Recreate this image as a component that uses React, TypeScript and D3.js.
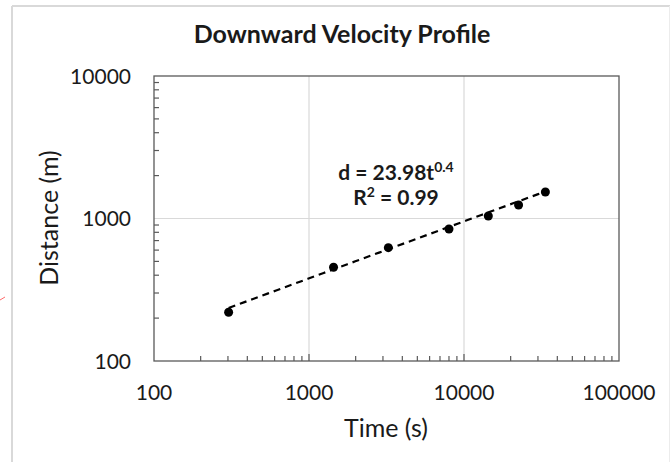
import React from "react";
import * as d3 from "d3";

const timeValues = [303, 1440, 3250, 8000, 14350, 22500, 33500];
const distanceValues = [220, 455, 624, 844, 1042, 1244, 1535];
const xTickValues = [100, 1000, 10000, 100000];
const yTickValues = [100, 1000, 10000];
const fitCoef = 23.98;
const fitExp = 0.4;
const titleText = "Downward Velocity Profile";
const xTitle = "Time (s)";
const yTitle = "Distance (m)";

const W = 671;
const H = 462;
const FONT = "Lato, 'Open Sans', sans-serif";

export default function App() {
  const left = 154, right = 619, top = 76, bottom = 361;
  const x = d3.scaleLog().domain([100, 100000]).range([left, right]);
  const y = d3.scaleLog().domain([100, 10000]).range([bottom, top]);

  const minorX: number[] = [];
  for (const dec of [100, 1000, 10000]) for (let k = 2; k <= 9; k++) minorX.push(dec * k);
  const minorY: number[] = [];
  for (const dec of [100, 1000]) for (let k = 2; k <= 9; k++) minorY.push(dec * k);

  const tMin = d3.min(timeValues)!;
  const tMax = d3.max(timeValues)!;
  const fitPts: [number, number][] = d3.range(0, 41).map((i) => {
    const t = tMin * Math.pow(tMax / tMin, i / 40);
    return [t, fitCoef * Math.pow(t, fitExp)];
  });
  const line = d3.line<[number, number]>().x((d) => x(d[0])).y((d) => y(d[1]));

  const axisColor = "#595959";
  const gridColor = "#d9d9d9";
  const textColor = "#1a1a1a";

  return (
    <svg width={W} height={H} style={{ position: "absolute", left: 0, top: 0, background: "#fff" }}>
      {/* outer chart frame */}
      <line x1={12} y1={6} x2={670} y2={6} stroke="#d9d9d9" strokeWidth={2} />
      <line x1={12} y1={6} x2={12} y2={H} stroke="#d9d9d9" strokeWidth={2} />
      <line x1={669.5} y1={6} x2={669.5} y2={H} stroke="#ececec" strokeWidth={1} />
      <line x1={0} y1={300} x2={5} y2={297} stroke="#ff6b6b" strokeWidth={1} />

      {/* gridlines */}
      {xTickValues.slice(1, -1).map((v) => (
        <line key={"gx" + v} x1={x(v)} x2={x(v)} y1={top} y2={bottom} stroke={gridColor} strokeWidth={1.2} />
      ))}
      {yTickValues.slice(1, -1).map((v) => (
        <line key={"gy" + v} x1={left} x2={right} y1={y(v)} y2={y(v)} stroke={gridColor} strokeWidth={1.2} />
      ))}

      {/* plot frame */}
      <rect x={left} y={top} width={right - left} height={bottom - top} fill="none" stroke={axisColor} strokeWidth={1.3} />

      {/* minor ticks */}
      {minorX.map((v) => (
        <line key={"mx" + v} x1={x(v)} x2={x(v)} y1={bottom} y2={bottom - 5} stroke={axisColor} strokeWidth={1.2} />
      ))}
      {xTickValues.slice(1, -1).map((v) => (
        <line key={"Mx" + v} x1={x(v)} x2={x(v)} y1={bottom} y2={bottom - 7} stroke={axisColor} strokeWidth={1.2} />
      ))}
      {minorY.map((v) => (
        <line key={"my" + v} x1={left} x2={left + 5} y1={y(v)} y2={y(v)} stroke={axisColor} strokeWidth={1.2} />
      ))}

      {/* tick labels */}
      {xTickValues.map((v) => (
        <text key={"tx" + v} x={x(v)} y={400} textAnchor="middle" fontFamily={FONT} fontSize={21} fill={textColor}>
          {v}
        </text>
      ))}
      {yTickValues.map((v) => (
        <text key={"ty" + v} x={131} y={y(v) + 7.5} textAnchor="end" fontFamily={FONT} fontSize={21} fill={textColor}>
          {v}
        </text>
      ))}

      {/* fit line */}
      <path d={line(fitPts) || ""} fill="none" stroke="#000" strokeWidth={2.2} strokeDasharray="7,5" />

      {/* points */}
      {timeValues.map((t, i) => (
        <circle key={"p" + i} cx={x(t)} cy={y(distanceValues[i])} r={4.5} fill="#000" />
      ))}

      {/* annotation */}
      <text x={396} y={180} textAnchor="middle" fontFamily={FONT} fontSize={21} fontWeight="bold" fill={textColor}>
        d = 23.98t<tspan dy={-8} fontSize={14}>0.4</tspan>
      </text>
      <text x={396} y={205} textAnchor="middle" fontFamily={FONT} fontSize={21} fontWeight="bold" fill={textColor}>
        R<tspan dy={-8} fontSize={14}>2</tspan><tspan dy={8}> = 0.99</tspan>
      </text>

      {/* titles */}
      <text x={342} y={43} textAnchor="middle" fontFamily={FONT} fontSize={25} fontWeight="bold" fill={textColor}>
        {titleText}
      </text>
      <text x={386} y={437} textAnchor="middle" fontFamily={FONT} fontSize={25} fill={textColor}>
        {xTitle}
      </text>
      <text transform={`translate(58, 218) rotate(-90)`} textAnchor="middle" fontFamily={FONT} fontSize={25} fill={textColor}>
        {yTitle}
      </text>
    </svg>
  );
}
